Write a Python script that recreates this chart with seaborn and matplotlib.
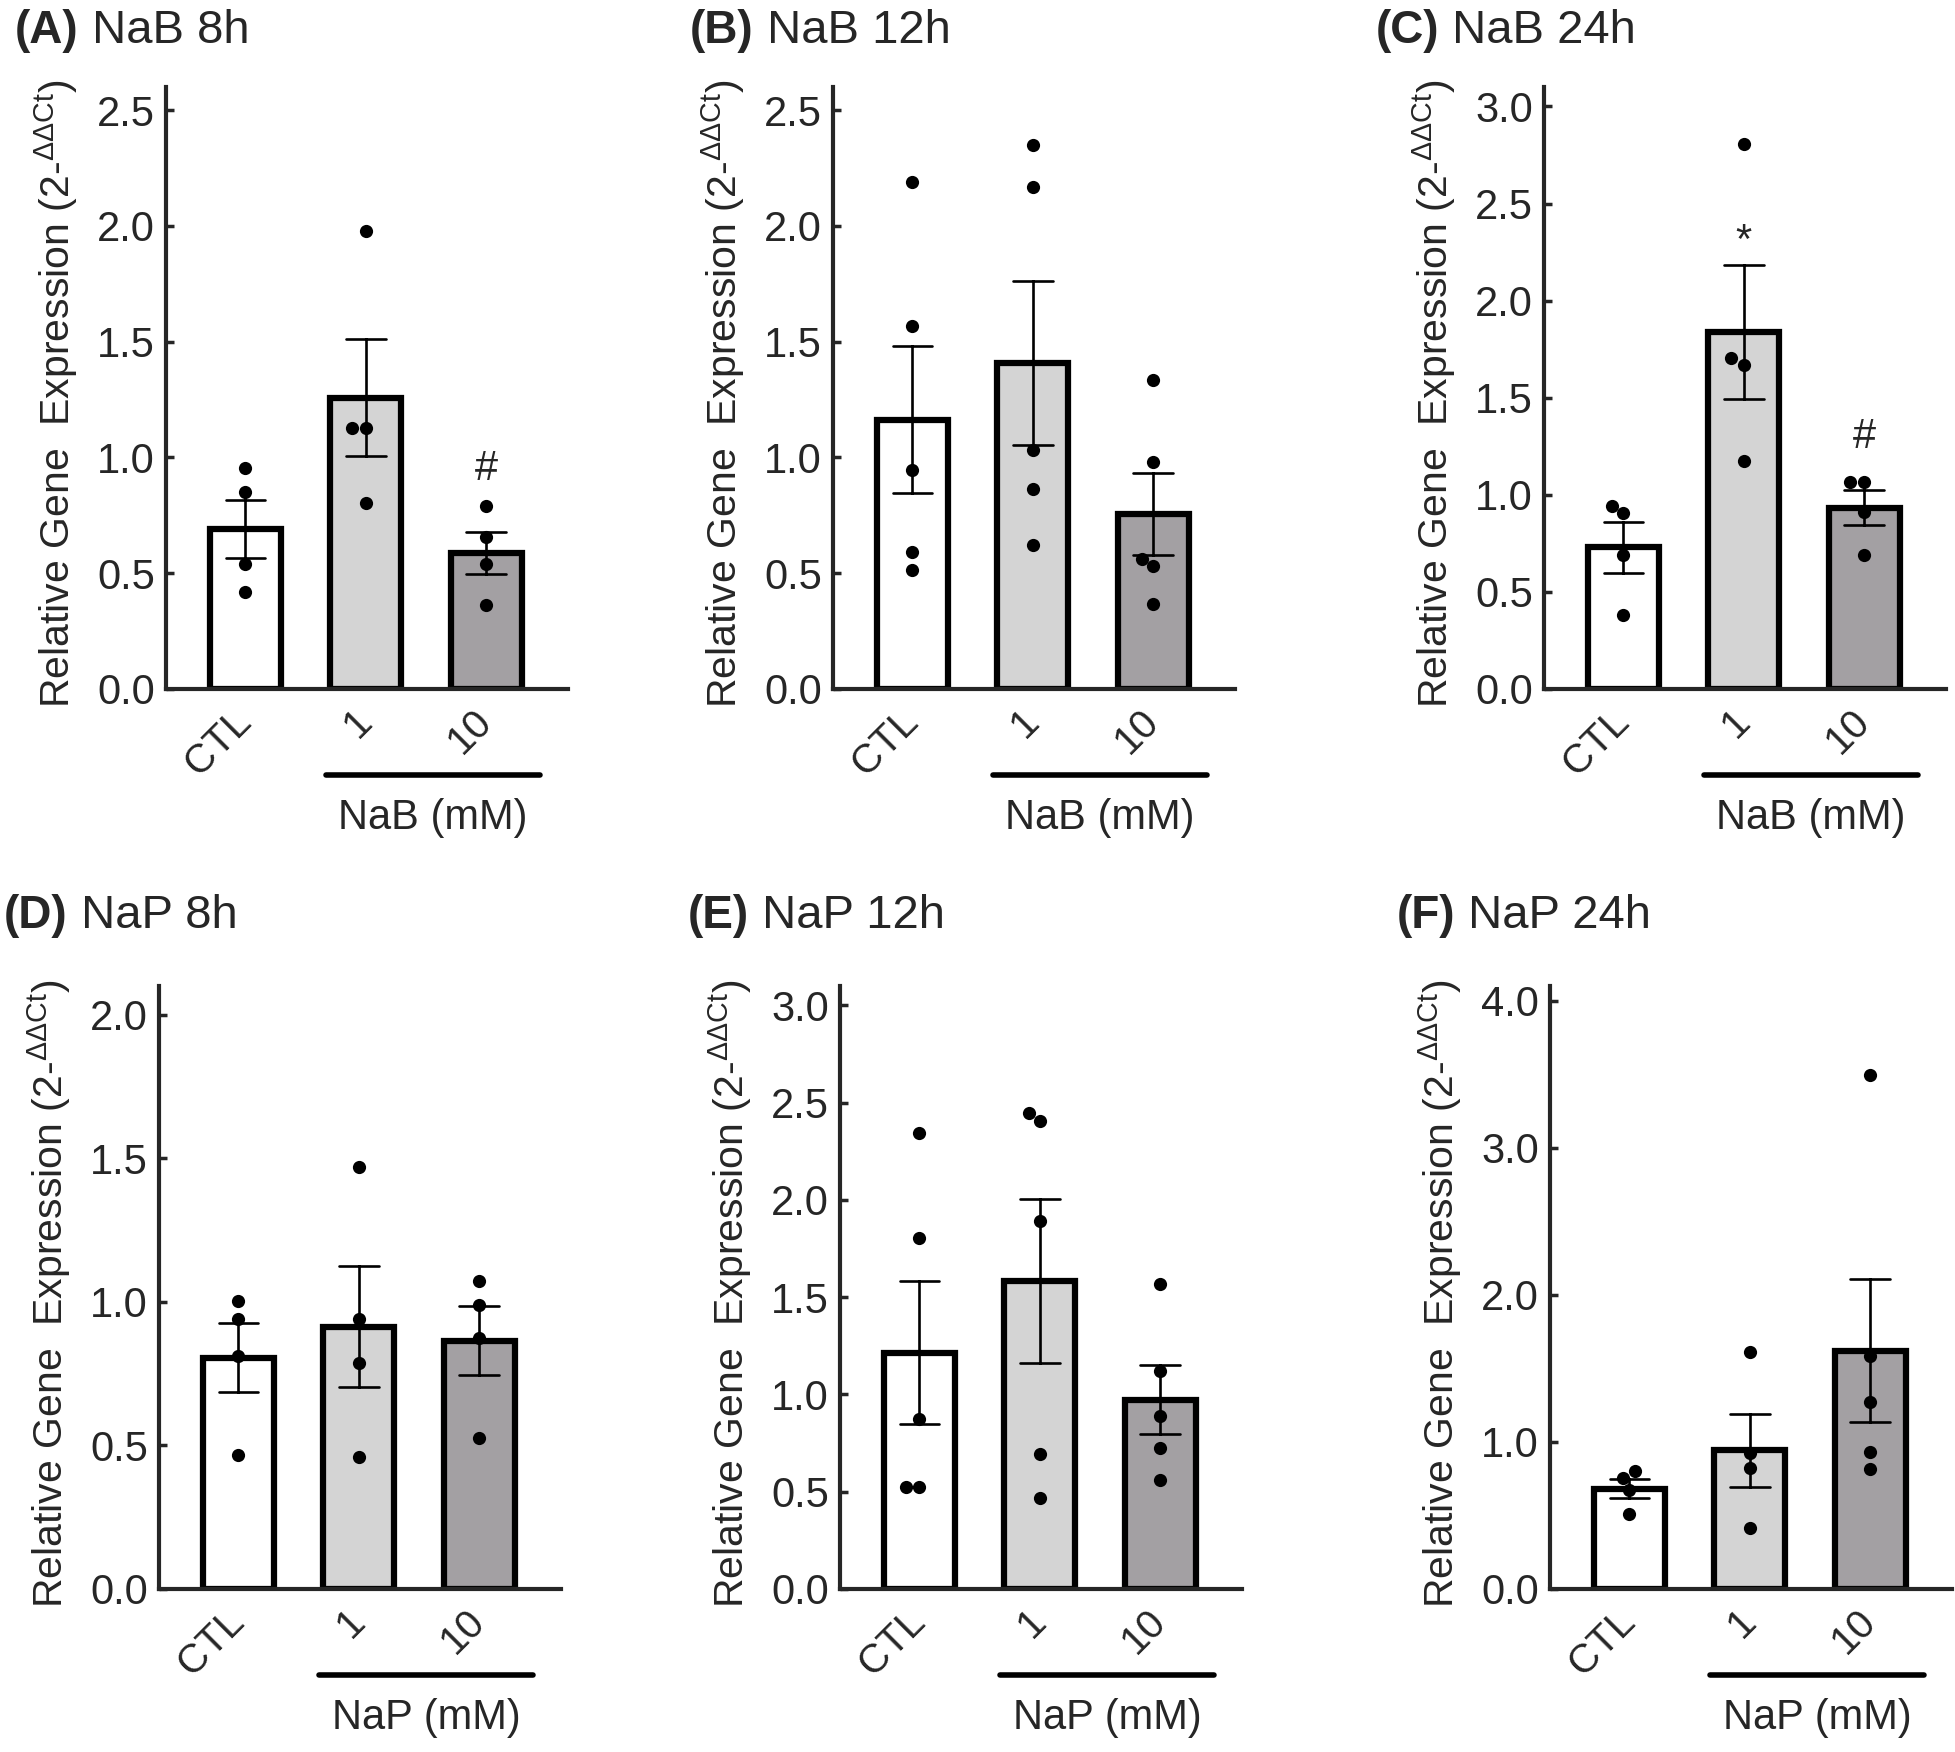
import numpy as np
import pandas as pd
import seaborn as sns
import matplotlib
matplotlib.use("Agg")
import matplotlib.pyplot as plt
import matplotlib.transforms as mtransforms
from matplotlib.ticker import StrMethodFormatter

groups = ["CTL", "1", "10"]
bar_colors = ["#ffffff", "#d4d4d4", "#a39fa4"]

# dots, one list per group (CTL, 1 mM, 10 mM)
nab_8h = [[0.953, 0.851, 0.539, 0.421],
          [1.98, 1.126, 1.126, 0.802],
          [0.790, 0.657, 0.539, 0.364]]
nab_12h = [[2.19, 1.569, 0.948, 0.592, 0.514],
           [2.351, 2.168, 1.033, 0.863, 0.621],
           [1.336, 0.981, 0.562, 0.531, 0.365]]
nab_24h = [[0.944, 0.907, 0.688, 0.379],
           [2.809, 1.702, 1.671, 1.174],
           [1.067, 1.067, 0.913, 0.688]]
nap_8h = [[1.004, 0.941, 0.812, 0.465],
          [1.469, 0.941, 0.786, 0.459],
          [1.073, 0.988, 0.875, 0.525]]
nap_12h = [[2.346, 1.805, 0.876, 0.526, 0.526],
           [2.448, 2.407, 1.893, 0.695, 0.467],
           [1.569, 1.122, 0.891, 0.725, 0.561]]
nap_24h = [[0.80, 0.752, 0.673, 0.508],
           [1.610, 0.923, 0.826, 0.413],
           [3.498, 1.583, 1.274, 0.934, 0.819]]

panel_letters = ["(A)", "(B)", "(C)", "(D)", "(E)", "(F)"]
panel_titles = ["NaB 8h", "NaB 12h", "NaB 24h", "NaP 8h", "NaP 12h", "NaP 24h"]
panel_data = [nab_8h, nab_12h, nab_24h, nap_8h, nap_12h, nap_24h]
group_labels = ["NaB (mM)"] * 3 + ["NaP (mM)"] * 3
y_tops = [2.6, 2.6, 3.1, 2.1, 3.1, 4.1]
y_steps = [0.5, 0.5, 0.5, 0.5, 0.5, 1.0]
# significance marks: (panel, group index, y, text)
marks = [(0, 2, 0.95, "#"), (2, 1, 2.30, "*"), (2, 2, 1.30, "#")]

sns.set_style("ticks")
plt.rcParams["font.family"] = ["Liberation Sans", "DejaVu Sans"]
plt.rcParams["mathtext.fontset"] = "custom"
plt.rcParams["mathtext.rm"] = "Liberation Sans"

W, H = 1956, 1752
fig = plt.figure(figsize=(W / 100, H / 100), dpi=100)

# axes boxes in pixels: left, top, width, height
boxes = [(166, 87, 402, 602), (833, 87, 402, 602), (1544, 87, 402, 602),
         (159, 986, 402, 603), (840, 986, 402, 603), (1550, 986, 402, 603)]
title_pos = [(15, 31), (690, 31), (1376, 31), (4, 916), (688, 916), (1397, 916)]

fs = 30

for i, vals in enumerate(panel_data):
    l, t, w, h = boxes[i]
    ax = fig.add_axes([l / W, 1 - (t + h) / H, w / W, h / H])

    df = pd.DataFrame({
        "group": [g for g, v in zip(groups, vals) for _ in v],
        "value": [x for v in vals for x in v],
    })

    sns.barplot(data=df, x="group", y="value", order=groups, hue="group",
                hue_order=groups, palette=bar_colors, legend=False,
                errorbar="se", capsize=0.33, width=0.59,
                edgecolor="black", linewidth=4.5,
                err_kws={"color": "black", "linewidth": 1.9}, ax=ax)
    sns.swarmplot(data=df, x="group", y="value", order=groups, color="black",
                  size=9.5, zorder=3, ax=ax)

    ax.set_xlim(-0.66, 2.68)
    ax.set_ylim(0, y_tops[i])
    ax.set_yticks(np.arange(0, y_tops[i] + 1e-6, y_steps[i]))
    ax.yaxis.set_major_formatter(StrMethodFormatter("{x:.1f}"))
    ax.set_xlabel("")
    ax.set_ylabel("Relative Gene  Expression (2-$^{\\mathrm{ΔΔCt}}$)", fontsize=29.5)
    ax.yaxis.set_label_coords(-0.215, 0.49)

    sns.despine(ax=ax)
    for s in ["left", "bottom"]:
        ax.spines[s].set_linewidth(3)
    ax.tick_params(axis="y", direction="in", length=6, width=2.5,
                   labelsize=fs, pad=8)
    ax.tick_params(axis="x", length=0, labelsize=29, pad=19)
    for lab in ax.get_xticklabels():
        lab.set_rotation(45)
        lab.set_ha("right")
        lab.set_va("center")
        lab.set_rotation_mode("anchor")

    trans = mtransforms.blended_transform_factory(ax.transData, ax.transAxes)
    ax.plot([0.67, 2.45], [-0.143, -0.143], color="black", lw=4,
            transform=trans, clip_on=False)
    ax.text(1.56, -0.214, group_labels[i], transform=trans, ha="center",
            va="center", fontsize=fs)

    for p, g, y, s in marks:
        if p == i:
            ax.text(g, y, s, ha="center", va="center", fontsize=fs)

    tx, ty = title_pos[i]
    tt = fig.text(tx / W, 1 - ty / H, panel_letters[i], fontsize=33,
                  fontweight="bold", va="center", ha="left")
    fig.canvas.draw()
    ax.annotate(" " + panel_titles[i], xy=(1, 0), xycoords=tt,
                va="bottom", ha="left", fontsize=34)

fig.savefig("out.png", dpi=100)
